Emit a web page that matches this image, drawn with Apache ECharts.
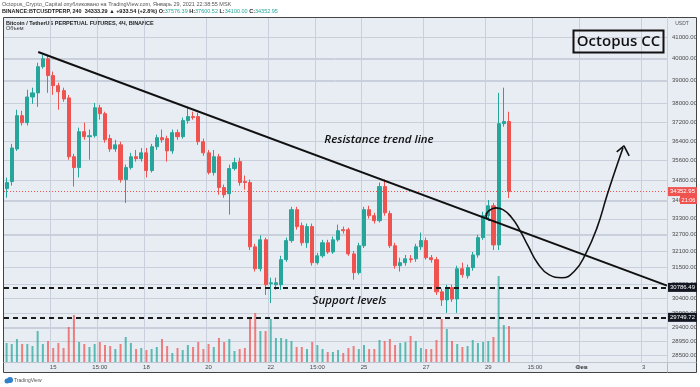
<!DOCTYPE html>
<html><head><meta charset="utf-8">
<script src="https://cdn.jsdelivr.net/npm/echarts@6/dist/echarts.min.js"></script>
<style>html,body{margin:0;padding:0;background:#fff}#c{width:700px;height:387px}</style>
</head><body><div id="c"></div>
<script>
// ---- data ----
const firstBarUTC = Date.UTC(2021, 0, 13, 15, 0); // 13 Jan 2021 15:00 MSK (label time)
const barHours = 4;
const slotCount = 128;           // bars + empty future slots
const tickIndex = [9, 18, 27, 39, 51, 60, 69, 81, 93, 102, 111, 123];
const tickText  = ['15', '15:00', '18', '20', '22', '15:00', '25', '27', '29', '15:00', 'Фев', '3'];
const priceTicks = [41000, 40000, 39000, 38000, 37200, 36400, 35600, 34800, 34000, 33300, 32700, 32100, 31500, 30900, 30400, 29900, 29400, 28950, 28500];
// [open, close, low, high]
const ohlc = [
[34470,34710,34110,34910],[34750,36110,34590,36280],[36070,37470,35990,37725],[37470,37170,37050,37680],
[37170,38280,37050,38600],[38280,38460,37980,38690],[38460,39630,37850,39810],[39630,39990,39540,40170],
[39990,39230,38460,40170],[39230,38780,38370,39410],[38780,38510,37725,38910],[38560,38190,38070,38690],
[38240,35750,35630,38370],[35750,35310,34550,35870],[35310,36790,34910,36960],[36790,36580,36450,37170],
[36580,36620,35630,36880],[36620,37810,36540,38020],[37810,37555,37300,37940],[37555,36450,36330,37640],
[36500,36070,35950,36665],[36070,36240,35950,36450],[36240,34830,34710,36370],[34830,35310,33910,35430],
[35310,35750,35230,35910],[35750,35670,35550,36030],[35670,35910,35550,36110],[35910,35190,34910,36110],
[35190,36160,35110,36280],[36160,36540,36030,36665],[36540,36450,36330,36880],[36500,35990,35550,36620],
[35990,36750,35870,36880],[36750,36580,36450,36880],[36580,37260,36500,37390],[37260,37430,37130,37850],
[37430,37390,37300,37640],[37430,36370,36240,37600],[36370,35910,35790,36500],[35910,35110,35030,36030],
[35110,35750,34990,36030],[35750,34510,34230,35870],[34510,34230,34110,34630],[34270,35270,33460,35430],
[35270,35510,35190,35710],[35550,34710,34590,35710],[34750,34710,34430,34990],[34710,32250,32130,34830],
[32250,31450,31350,32360],[31450,32510,31350,32670],[32510,30880,30520,32590],[30920,30950,30240,31130],
[30880,30950,30700,31130],[30880,31780,30700,31920],[31780,32480,31700,32590],[32480,33650,32400,33760],
[33650,33005,32890,33760],[33040,32400,32290,33160],[32400,33005,32210,33120],[33005,31670,31560,33120],
[31670,31920,31600,32030],[31920,32400,31850,32510],[32400,32060,31990,32510],[32060,32510,31990,32630],
[32510,32850,32440,33080],[32890,32850,32740,33005],[32890,31990,31920,32965],[31990,31310,31060,32100],
[31310,32290,31240,32400],[32290,33650,32210,33760],[33650,33420,33310,33800],[33420,33230,33120,33530],
[33230,34550,33160,34710],[34550,33530,33420,34830],[33500,32290,32210,33610],[32290,31560,31450,32400],
[31560,31670,31350,31850],[31670,31810,31560,31950],[31810,31780,31670,31950],[31810,32250,31700,32360],
[32250,32480,32130,32780],[32480,31850,31780,32590],[31850,31780,31670,31950],[31780,30630,30520,31880],
[30630,30350,30140,30740],[30350,30780,29900,30880],[30780,30380,30280,30880],[30380,31450,29900,31560],
[31450,31240,31130,31670],[31200,31490,31100,31600],[31490,31950,31380,32060],[31950,32590,31850,32700],
[32590,33420,32510,33570],[33420,33800,33270,34025],[33800,32320,32130,33910],[32320,37130,32130,38460],
[37130,37220,37000,38690],[37220,34352.95,34100,37640]
];
// volume (thousands, relative)
const volumes = [19,18,23,18,18,16,31,18,21,14, 19,14,35,47,20,18,15,18,20,17,
 16,13,18,25,19,13,14,12,13,15, 23,16,9,14,12,17,15,20,13,18,
 15,24,20,23,11,13,14,44,49,31, 31,43,24,24,23,21,15,15,13,20,
 17,13,10,10,12,9,14,16,13,17, 13,13,22,21,23,17,19,20,26,21,
 14,13,13,22,43,33,21,18,15,16, 22,19,20,21,25,86,37,36];
const supportLevels = [30786.49, 29749.72];
const lastPrice = 34352.95;
const countdown = '21:06';
// annotation lines: [bar position, price]
const trendLine = [[6.1, 40300], [127.5, 30850]];
const forecastPath = [[93.32,33230],[92.55,33420],[93.13,33610],[94.48,33720],[95.83,33650],[97.38,33380],
 [98.92,32930],[100.66,32290],[102.6,31630],[104.7,31240],[107.2,31130],[109.7,31380],[111.8,31990],
 [114.0,32965],[115.9,34190],[117.5,35190],[119.0,36110]];
const arrowHead = [[117.8,35950],[119.2,36200],[120.2,35790]];

// ---- build ----
const categories = [];
for (let i = 0; i < slotCount; i++) {
  const d = new Date(firstBarUTC + i * barHours * 3600000);
  const p = n => String(n).padStart(2, '0');
  categories.push(d.getUTCFullYear() + '-' + p(d.getUTCMonth() + 1) + '-' + p(d.getUTCDate()) + ' ' + p(d.getUTCHours()) + ':00');
}
const tickMap = {};
tickIndex.forEach((k, j) => tickMap[k] = tickText[j]);
const UP = '#26a69a', DOWN = '#ef5350';
const PANE = '#e8edf4';
const GRIDC = '#c9d0db';
const volData = volumes.map((v, i) => ({
  value: v,
  itemStyle: { color: ohlc[i][1] >= ohlc[i][0] ? 'rgba(38,166,154,0.72)' : 'rgba(239,83,80,0.72)' }
}));
const FONT = 'Liberation Sans';

const chart = echarts.init(document.getElementById('c'), null, { renderer: 'canvas' });
chart.setOption({
  backgroundColor: PANE,
  animation: false,
  grid: { left: 4, right: 33, top: 18, bottom: 25 },
  xAxis: [{
    type: 'category', data: categories, boundaryGap: true,
    axisLine: { show: false }, axisTick: { show: false },
    splitLine: { show: true, interval: (i) => tickMap[i] !== undefined, lineStyle: { color: GRIDC, width: 1 } },
    axisLabel: {
      interval: (i) => tickMap[i] !== undefined,
      formatter: (v, i) => tickMap[i] === 'Фев' ? '{b|Фев}' : (tickMap[i] || ''),
      fontSize: 6, fontFamily: FONT, color: '#4a4a4a', margin: 2,
      rich: { b: { fontWeight: 'bold', fontSize: 6, fontFamily: FONT, color: '#333' } }
    }
  }, {
    type: 'value', min: -0.5, max: slotCount - 0.5, show: false
  }],
  yAxis: [{
    type: 'log', logBase: 10, min: 28268, max: 41900, position: 'right',
    axisLine: { show: false }, axisTick: { show: false, customValues: priceTicks },
    splitLine: { show: true, lineStyle: { color: GRIDC, width: 1 } },
    axisLabel: {
      customValues: priceTicks,
      formatter: v => Number(v).toFixed(2),
      fontSize: 6, fontFamily: FONT, color: '#4a4a4a', margin: 5
    }
  }, {
    type: 'value', min: 0, max: 344, show: false
  }],
  series: [
    { // horizontal grid lines at the price ticks
      type: 'custom', xAxisIndex: 1, yAxisIndex: 0, z: 1, silent: true,
      data: priceTicks.map(v => [0, v]),
      renderItem: (params, api) => {
        const cs = params.coordSys;
        const y = Math.round(api.coord([0, api.value(1)])[1]) + 0.5;
        return { type: 'line', shape: { x1: cs.x, y1: y, x2: cs.x + cs.width, y2: y }, style: { stroke: GRIDC, lineWidth: 1 } };
      }
    },
    {
      type: 'bar', name: 'Объем', xAxisIndex: 0, yAxisIndex: 1, barWidth: 2, z: 3,
      data: volData, silent: true
    },
    {
      type: 'candlestick', name: 'BTCUSDTPERP', xAxisIndex: 0, yAxisIndex: 0, z: 4,
      data: ohlc, barWidth: '70%', silent: true,
      itemStyle: { color: UP, color0: DOWN, borderColor: UP, borderColor0: DOWN, borderWidth: 1 },
      markLine: {
        silent: true, symbol: 'none', z: 5,
        label: { position: 'end', distance: 1, formatter: '{c}', fontSize: 6, fontFamily: FONT, color: '#fff', padding: [1.5, 2] },
        data: [
          { yAxis: lastPrice, lineStyle: { color: DOWN, type: [1, 2], width: 1 }, label: { backgroundColor: DOWN } },
          { yAxis: supportLevels[0], lineStyle: { color: '#1a1a1a', type: [5, 4], width: 2 }, label: { backgroundColor: '#131722' } },
          { yAxis: supportLevels[1], lineStyle: { color: '#1a1a1a', type: [5, 4], width: 2 }, label: { backgroundColor: '#131722' } }
        ]
      }
    },
    {
      type: 'line', name: 'Resistance trend line', xAxisIndex: 1, yAxisIndex: 0, z: 6,
      data: trendLine, symbol: 'none', silent: true,
      lineStyle: { color: '#111', width: 2 }
    },
    {
      type: 'line', name: 'forecast', xAxisIndex: 1, yAxisIndex: 0, z: 6,
      data: forecastPath, symbol: 'none', smooth: 0.5, silent: true,
      lineStyle: { color: '#111', width: 1.6 }
    },
    {
      type: 'line', name: 'arrow', xAxisIndex: 1, yAxisIndex: 0, z: 6,
      data: arrowHead, symbol: 'none', silent: true,
      lineStyle: { color: '#111', width: 1.6 }
    }
  ],
  graphic: { elements: [
    // white page margins outside the chart frame
    { type: 'rect', silent: true, shape: { x: 0, y: 0, width: 700, height: 17.5 }, style: { fill: '#fff' } },
    { type: 'rect', silent: true, shape: { x: 0, y: 372.5, width: 700, height: 15 }, style: { fill: '#fff' } },
    { type: 'rect', silent: true, shape: { x: 0, y: 0, width: 3.5, height: 387 }, style: { fill: '#fff' } },
    { type: 'rect', silent: true, shape: { x: 696.5, y: 0, width: 3.5, height: 387 }, style: { fill: '#fff' } },
    { type: 'rect', silent: true, shape: { x: 3.5, y: 17.5, width: 693, height: 355 },
      style: { fill: 'none', stroke: '#444', lineWidth: 1 } },
    { type: 'line', silent: true, shape: { x1: 667.5, y1: 17.5, x2: 667.5, y2: 372.5 }, style: { stroke: '#b3bac6', lineWidth: 1 } },
    { type: 'line', silent: true, shape: { x1: 3.5, y1: 362.5, x2: 696.5, y2: 362.5 }, style: { stroke: '#bfc6d1', lineWidth: 1 } },
    { type: 'text', silent: true, style: { x: 2, y: 4.5, text: 'Octopus_Crypto_Capital опубликовано на TradingView.com, Январь 29, 2021 22:38:55 MSK',
      font: '5.5px "Liberation Sans"', fill: '#555', verticalAlign: 'middle', textVerticalAlign: 'middle' } },
    { type: 'text', silent: true, style: { x: 2, y: 11, 
      text: '{b|BINANCE:BTCUSDTPERP, 240  34333.29 ▲ +933.54 (+2.8%)} {k|O:}{g|37576.39} {k|H:}{g|37600.52} {k|L:}{g|34100.00} {k|C:}{g|34352.95}',
      font: '5.5px "Liberation Sans"', fill: '#222', verticalAlign: 'middle', textVerticalAlign: 'middle',
      rich: { b: { fontWeight: 'bold', fontSize: 5.5, fontFamily: FONT, fill: '#222' },
              k: { fontWeight: 'bold', fontSize: 5.5, fontFamily: FONT, fill: '#222' },
              g: { fontSize: 5.5, fontFamily: FONT, fill: '#26a69a' } } } },
    { type: 'text', silent: true, style: { x: 6, y: 23, text: 'Bitcoin / TetherUS PERPETUAL FUTURES, 4Ч, BINANCE',
      font: 'bold 5.5px "Liberation Sans"', fill: '#222', verticalAlign: 'middle', textVerticalAlign: 'middle' } },
    { type: 'text', silent: true, style: { x: 6, y: 28.5, text: 'Объем',
      font: '5.5px "Liberation Sans"', fill: '#333', verticalAlign: 'middle', textVerticalAlign: 'middle' } },
    { type: 'text', silent: true, style: { x: 682, y: 23.5, text: 'USDT',
      font: '5px "Liberation Sans"', fill: '#555', align: 'center', textAlign: 'center', verticalAlign: 'middle', textVerticalAlign: 'middle' } },
    { type: 'rect', z: 20, silent: true, shape: { x: 573.5, y: 30.5, width: 90, height: 22 },
      style: { fill: 'none', stroke: '#111', lineWidth: 2 } },
    { type: 'text', z: 20, silent: true, style: { x: 618.5, y: 42, text: 'Octopus CC',
      font: '600 15px "Open Sans"', fill: '#111', align: 'center', textAlign: 'center', verticalAlign: 'middle', textVerticalAlign: 'middle' } },
    { type: 'text', z: 20, silent: true, style: { x: 379, y: 140, text: 'Resistance trend line',
      font: 'italic 600 11.5px "Open Sans"', fill: '#111', align: 'center', textAlign: 'center', verticalAlign: 'middle', textVerticalAlign: 'middle' } },
    { type: 'text', z: 20, silent: true, style: { x: 349.5, y: 301, text: 'Support levels',
      font: 'italic 600 11.5px "Open Sans"', fill: '#111', align: 'center', textAlign: 'center', verticalAlign: 'middle', textVerticalAlign: 'middle' } },
    { type: 'rect', z: 30, silent: true, shape: { x: 680, y: 196, width: 17, height: 8 }, style: { fill: DOWN } },
    { type: 'text', z: 31, silent: true, style: { x: 688.5, y: 200, text: countdown,
      font: '5.5px "Liberation Sans"', fill: '#fff', align: 'center', textAlign: 'center', verticalAlign: 'middle', textVerticalAlign: 'middle' } },
    { type: 'circle', silent: true, shape: { cx: 7, cy: 381, r: 2.5 }, style: { fill: '#2f80c9' } },
    { type: 'circle', silent: true, shape: { cx: 10, cy: 380, r: 3 }, style: { fill: '#2f80c9' } },
    { type: 'text', silent: true, style: { x: 14, y: 381, text: 'TradingView',
      font: '5px "Liberation Sans"', fill: '#555', verticalAlign: 'middle', textVerticalAlign: 'middle' } }
  ] }
});
</script>
</body></html>
